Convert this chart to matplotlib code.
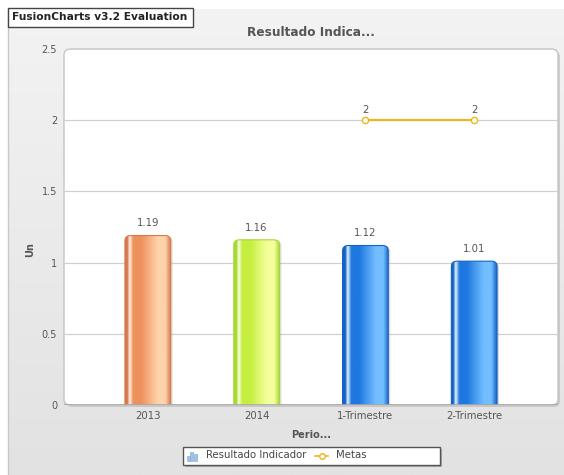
import numpy as np
import matplotlib
matplotlib.use("Agg")
import matplotlib.pyplot as plt
from matplotlib.patches import FancyBboxPatch, Rectangle
from matplotlib.colors import to_rgb
from matplotlib.lines import Line2D

# Chart data
categories = ["2013", "2014", "1-Trimestre", "2-Trimestre"]
resultado = [1.19, 1.16, 1.12, 1.01]
metas = [np.nan, np.nan, 2, 2]
y_ticks = [0, 0.5, 1, 1.5, 2, 2.5]
y_tick_labels = ["0", "0.5", "1", "1.5", "2", "2.5"]

# bar palettes: edge, highlight, base, light
palettes = [
    ("#d8784a", "#fff2e6", "#ee915d", "#ffd3aa"),
    ("#a6d832", "#f8ffe2", "#c6ee3e", "#f4ff9c"),
    ("#1462c4", "#e4f5ff", "#1e78e0", "#72beff"),
    ("#1462c4", "#e4f5ff", "#1e78e0", "#72beff"),
]

W, H = 564, 475
fig = plt.figure(figsize=(W / 100, H / 100), dpi=100)
fig.patch.set_facecolor("white")


def fx(px):
    return px / W


def fy(py):
    return 1 - py / H


# background gradient panel
bg = fig.add_axes([fx(8), 0, 1 - fx(8), fy(9)], zorder=0)
grad = np.linspace(0, 1, 256)[:, None]
top_c = np.array(to_rgb("#f3f3f3"))
bot_c = np.array(to_rgb("#e2e2e2"))
img = top_c[None, None, :] * (1 - grad[:, :, None]) + bot_c[None, None, :] * grad[:, :, None]
bg.imshow(img, aspect="auto", extent=(0, 1, 0, 1))
bg.set_xlim(0, 1)
bg.set_ylim(0, 1)
bg.axis("off")
fig.add_artist(Line2D([fx(8), fx(8)], [0, fy(9)], color="#c8c8c8", lw=1, zorder=1))

# plot area card with shadow
L, R, T, B = 64, 558, 49, 405
shadow = FancyBboxPatch((fx(L) + fx(2), fy(B) - 2 / H), fx(R - L), (B - T) / H,
                        boxstyle="round,pad=0,rounding_size=0.012", transform=fig.transFigure,
                        facecolor="#b8b8b8", edgecolor="none", alpha=0.6, zorder=1)
fig.add_artist(shadow)
card = FancyBboxPatch((fx(L), fy(B)), fx(R - L), (B - T) / H,
                      boxstyle="round,pad=0,rounding_size=0.012", transform=fig.transFigure,
                      facecolor="white", edgecolor="#c4c4c4", lw=1, zorder=1)
fig.add_artist(card)

ax = fig.add_axes([fx(L), fy(B), fx(R - L), (B - T) / H], zorder=2)
ax.patch.set_visible(False)
for s in ax.spines.values():
    s.set_visible(False)

x = np.arange(len(categories))
bar_w = 0.42
ax.set_xlim(-0.77, len(categories) - 1 + 0.77)
ax.set_ylim(0, 2.5)

for yv in y_ticks[1:-1]:
    ax.axhline(yv, color="#d0d0d0", lw=0.9, zorder=1)
ax.axhline(0, color="#a8a8a8", lw=1.2, zorder=5)

# pixel scale for rounded corners
px_x = (R - L) / (ax.get_xlim()[1] - ax.get_xlim()[0])
px_y = (B - T) / 2.5
aspect = px_x / px_y

stops = [0.0, 0.05, 0.1, 0.18, 0.35, 0.72, 0.88, 1.0]
for i, v in enumerate(resultado):
    edge, hi, base, light = palettes[i]
    cols = [edge, edge, hi, base, base, light, light, edge]
    xs = np.linspace(0, 1, 200)
    rgb = np.array([to_rgb(c) for c in cols])
    prof = np.stack([np.interp(xs, stops, rgb[:, k]) for k in range(3)], axis=1)
    x0 = x[i] - bar_w / 2
    # shadow
    sh = FancyBboxPatch((x0 + 2 / px_x, -0.1), bar_w, v + 0.1 - 1 / px_y,
                        boxstyle="round,pad=0,rounding_size=0.05", mutation_aspect=aspect,
                        facecolor="#999999", edgecolor="none", alpha=0.35, zorder=2)
    ax.add_patch(sh)
    patch = FancyBboxPatch((x0, -0.1), bar_w, v + 0.1,
                           boxstyle="round,pad=0,rounding_size=0.05", mutation_aspect=aspect,
                           facecolor="none", edgecolor=edge, lw=0.8, zorder=4)
    ax.add_patch(patch)
    im = ax.imshow(prof[None, :, :], aspect="auto", extent=(x0, x0 + bar_w, 0, v),
                   zorder=3, interpolation="bilinear")
    im.set_clip_path(patch)
    ax.text(x[i], v + 0.05, f"{v:.2f}", ha="center", va="bottom", fontsize=7.3, color="#555555", zorder=6)

ax.set_xlim(-0.77, len(categories) - 1 + 0.77)
ax.set_ylim(0, 2.5)

# Metas line
ax.plot(x, metas, color="#f2b41a", lw=1.5, marker="o", markersize=4.5,
        markerfacecolor="white", markeredgecolor="#f2b41a", markeredgewidth=1, zorder=7, clip_on=False)
for i, m in enumerate(metas):
    if not np.isnan(m):
        ax.text(x[i], m + 0.04, f"{m:g}", ha="center", va="bottom", fontsize=7.3, color="#555555", zorder=8)

ax.set_yticks(y_ticks)
ax.set_yticklabels(y_tick_labels, fontsize=7, color="#555555")
ax.set_xticks(x)
ax.set_xticklabels(categories, fontsize=7.3, color="#555555")
ax.tick_params(length=0, pad=5)
ax.tick_params(axis="x", pad=4)

fig.text(fx(30), fy(250), "Un", rotation=90, ha="center", va="center", fontsize=7,
         fontweight="bold", color="#555555", zorder=3)
fig.text(fx(311), fy(435), "Perio...", ha="center", va="center", fontsize=7,
         fontweight="bold", color="#555555", zorder=3)
fig.text(fx(311), fy(32), "Resultado Indica...", ha="center", va="center", fontsize=8.7,
         fontweight="bold", color="#555555", zorder=3)

# evaluation label
fig.add_artist(Rectangle((fx(8), fy(27)), fx(185), 19 / H, transform=fig.transFigure,
                         facecolor="white", edgecolor="#444444", lw=1, zorder=3))
fig.text(fx(12), fy(17.5), "FusionCharts v3.2 Evaluation", ha="left", va="center",
         fontsize=7.7, fontweight="bold", color="#222222", zorder=4)

# legend
fig.add_artist(Rectangle((fx(185), fy(467)), fx(257), 18 / H, transform=fig.transFigure,
                         facecolor="#aaaaaa", edgecolor="none", zorder=3))
fig.add_artist(Rectangle((fx(183), fy(465)), fx(257), 18 / H, transform=fig.transFigure,
                         facecolor="white", edgecolor="#555555", lw=1, zorder=4))
for bx, bh in [(187, 5), (190.5, 9), (194, 7)]:
    fig.add_artist(Rectangle((fx(bx), fy(461)), fx(3), bh / H, transform=fig.transFigure,
                             facecolor="#9ec3e6", edgecolor="#7aa6d2", lw=0.4, zorder=5))
fig.text(fx(206), fy(455.5), "Resultado Indicador", ha="left", va="center", fontsize=7.3,
         color="#444444", zorder=5)
fig.add_artist(Line2D([fx(315), fx(328)], [fy(455.5), fy(455.5)], color="#f2b41a", lw=1.2,
                      marker=None, zorder=5))
fig.add_artist(Line2D([fx(321.5)], [fy(455.5)], color="#f2b41a", marker="o", markersize=4,
                      markerfacecolor="white", markeredgewidth=1, zorder=6))
fig.text(fx(336), fy(455.5), "Metas", ha="left", va="center", fontsize=7.3,
         color="#444444", zorder=5)

fig.savefig("out.png", dpi=100)
